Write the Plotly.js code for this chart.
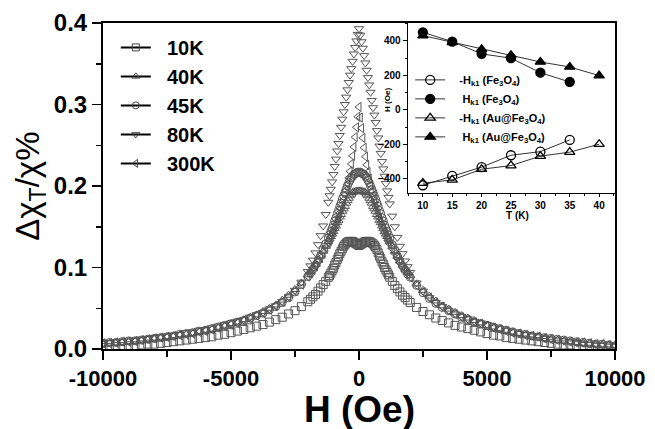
<!DOCTYPE html>
<html>
<head>
<meta charset="utf-8">
<script src="https://cdn.plot.ly/plotly-3.0.1.min.js"></script>
<style>html,body{margin:0;padding:0;background:#fff;}#chart{width:655px;height:429px;}</style>
</head>
<body>
<div id="chart"></div>
<script>
// Main chart: field H (Oe)
const H = [-10000,-9750,-9500,-9250,-9000,-8750,-8500,-8250,-8000,-7750,-7500,-7250,-7000,-6750,-6500,-6250,-6000,-5750,-5500,-5250,-5000,-4750,-4500,-4250,-4000,-3750,-3500,-3250,-3000,-2750,-2500,-2250,
 -2000,-1900,-1800,-1700,-1600,-1500,-1400,-1300,-1200,
 -1150,-1100,-1050,-1000,-950,-900,-850,-800,-750,-700,-650,
 -600,-550,-500,-450,-400,-350,-300,-250,-200,-150,-100,-50,
 0,
 50,100,150,200,250,300,350,400,450,500,550,600,
 650,700,750,800,850,900,950,1000,1050,1100,1150,
 1200,1300,1400,1500,1600,1700,1800,1900,2000,
 2250,2500,2750,3000,3250,3500,3750,4000,4250,4500,4750,5000,5250,5500,5750,6000,6250,6500,6750,7000,7250,7500,7750,8000,8250,8500,8750,9000,9250,9500,9750,10000];

const y10K = [0.002,0.002,0.003,0.003,0.004,0.004,0.005,0.006,0.006,0.007,0.008,0.009,0.010,0.011,0.012,0.013,0.014,0.015,0.017,0.018,0.020,0.022,0.024,0.026,0.028,0.030,0.033,0.036,0.039,0.043,0.047,0.052,
 0.058,0.061,0.064,0.067,0.071,0.075,0.079,0.083,0.088,
 0.090,0.093,0.096,0.099,0.103,0.106,0.110,0.113,0.117,0.120,0.123,
 0.126,0.128,0.130,0.131,0.132,0.132,0.132,0.132,0.131,0.130,0.129,0.128,
 0.127,
 0.128,0.129,0.130,0.131,0.132,0.132,0.132,0.132,0.131,0.130,0.129,0.127,
 0.125,0.122,0.118,0.114,0.111,0.107,0.104,0.100,0.097,0.094,0.091,
 0.088,0.083,0.078,0.074,0.070,0.066,0.063,0.060,0.057,
 0.051,0.046,0.042,0.038,0.035,0.032,0.029,0.027,0.025,0.023,0.021,0.019,0.017,0.016,0.014,0.013,0.012,0.011,0.010,0.009,0.008,0.007,0.006,0.005,0.005,0.004,0.003,0.003,0.002,0.002,0.001,0.001];

const y40K = [0.006,0.007,0.007,0.008,0.009,0.009,0.010,0.011,0.012,0.013,0.014,0.015,0.017,0.018,0.019,0.021,0.023,0.024,0.026,0.028,0.031,0.033,0.036,0.039,0.042,0.046,0.050,0.054,0.060,0.066,0.073,0.081,
 0.091,0.095,0.099,0.104,0.109,0.114,0.120,0.126,0.132,
 0.135,0.138,0.141,0.144,0.148,0.151,0.155,0.158,0.162,0.165,0.169,
 0.172,0.175,0.179,0.182,0.185,0.188,0.190,0.192,0.193,0.193,0.194,0.194,
 0.194,
 0.194,0.194,0.193,0.193,0.192,0.190,0.188,0.185,0.182,0.179,0.175,0.172,
 0.169,0.165,0.162,0.158,0.155,0.151,0.148,0.144,0.141,0.138,0.135,
 0.132,0.126,0.120,0.114,0.108,0.103,0.098,0.094,0.090,
 0.080,0.072,0.065,0.059,0.053,0.049,0.045,0.041,0.038,0.035,0.032,0.029,0.027,0.025,0.023,0.021,0.019,0.017,0.016,0.015,0.013,0.012,0.011,0.010,0.009,0.008,0.007,0.007,0.006,0.005,0.005,0.004];

const y45K = [0.007,0.008,0.008,0.009,0.010,0.010,0.011,0.012,0.013,0.014,0.015,0.016,0.018,0.019,0.020,0.022,0.023,0.025,0.027,0.029,0.031,0.033,0.035,0.038,0.041,0.044,0.048,0.052,0.057,0.063,0.070,0.079,
 0.089,0.093,0.098,0.103,0.109,0.115,0.122,0.129,0.136,
 0.140,0.144,0.148,0.152,0.157,0.161,0.166,0.170,0.175,0.179,0.184,
 0.188,0.192,0.196,0.200,0.204,0.207,0.210,0.212,0.214,0.215,0.216,0.217,
 0.217,
 0.217,0.216,0.215,0.214,0.212,0.210,0.207,0.204,0.200,0.196,0.192,0.188,
 0.184,0.179,0.175,0.170,0.166,0.161,0.157,0.152,0.148,0.144,0.140,
 0.136,0.128,0.121,0.114,0.108,0.102,0.097,0.092,0.088,
 0.078,0.069,0.062,0.056,0.051,0.047,0.043,0.039,0.036,0.033,0.031,0.029,0.027,0.025,0.023,0.021,0.019,0.018,0.016,0.015,0.014,0.013,0.012,0.011,0.010,0.009,0.008,0.007,0.006,0.006,0.005,0.004];

const y80K = [0.007,0.008,0.009,0.009,0.010,0.011,0.012,0.013,0.014,0.015,0.016,0.017,0.018,0.020,0.021,0.023,0.024,0.026,0.028,0.030,0.032,0.034,0.036,0.039,0.042,0.045,0.049,0.053,0.058,0.064,0.072,0.082,
 0.095,0.102,0.109,0.118,0.128,0.139,0.151,0.165,0.180,
 0.188,0.196,0.205,0.214,0.224,0.233,0.243,0.252,0.262,0.272,0.282,
 0.291,0.300,0.309,0.318,0.327,0.336,0.344,0.353,0.362,0.370,0.378,0.386,
 0.393,
 0.385,0.377,0.369,0.360,0.351,0.342,0.333,0.324,0.315,0.305,0.296,0.287,
 0.278,0.268,0.259,0.249,0.240,0.230,0.221,0.212,0.203,0.194,0.186,
 0.178,0.163,0.150,0.137,0.126,0.117,0.108,0.101,0.094,
 0.081,0.071,0.063,0.057,0.052,0.047,0.043,0.040,0.037,0.034,0.032,0.030,0.027,0.025,0.023,0.021,0.019,0.018,0.016,0.015,0.013,0.012,0.011,0.010,0.009,0.008,0.007,0.006,0.006,0.005,0.005,0.004];

const y300K = [0.007,0.007,0.008,0.009,0.009,0.010,0.011,0.012,0.013,0.014,0.015,0.016,0.017,0.018,0.019,0.021,0.022,0.024,0.026,0.028,0.030,0.032,0.035,0.037,0.041,0.044,0.048,0.053,0.058,0.064,0.071,0.079,
 0.089,0.093,0.097,0.102,0.107,0.112,0.118,0.124,0.130,
 0.133,0.137,0.141,0.145,0.149,0.153,0.157,0.162,0.167,0.172,0.177,
 0.183,0.189,0.195,0.202,0.210,0.218,0.227,0.237,0.248,0.260,0.272,0.285,
 0.297,
 0.284,0.271,0.259,0.247,0.236,0.226,0.217,0.209,0.201,0.194,0.188,0.182,
 0.176,0.171,0.166,0.161,0.156,0.152,0.148,0.144,0.140,0.136,0.132,
 0.129,0.123,0.117,0.111,0.106,0.101,0.096,0.092,0.088,
 0.078,0.070,0.063,0.057,0.052,0.047,0.043,0.039,0.036,0.033,0.031,0.028,0.026,0.024,0.022,0.020,0.019,0.017,0.016,0.015,0.013,0.012,0.011,0.010,0.009,0.008,0.008,0.007,0.006,0.006,0.005,0.004];

const seriesNames = ['10K','40K','45K','80K','300K'];
const seriesSymbols = ['square-open','triangle-up-open','circle-open','triangle-down-open','triangle-left-open'];
const seriesY = [y10K, y40K, y45K, y80K, y300K];

// Inset: T (K) vs H (Oe)
const T_Fe = [10,15,20,25,30,35];
const T_Au = [10,15,20,25,30,35,40];
const negHk1_Fe = [-437,-383,-332,-263,-242,-174];
const Hk1_Fe = [450,396,325,300,216,162];
const negHk1_Au = [-425,-406,-344,-323,-268,-245,-199];
const Hk1_Au = [431,392,352,317,278,249,199];
const insetNames = ['\u00a0\u00a0\u00a0-H<sub>k1</sub> (Fe<sub>3</sub>O<sub>4</sub>)','\u00a0\u00a0\u00a0\u00a0H<sub>k1</sub> (Fe<sub>3</sub>O<sub>4</sub>)','\u00a0\u00a0\u00a0-H<sub>k1</sub> (Au@Fe<sub>3</sub>O<sub>4</sub>)','\u00a0\u00a0\u00a0\u00a0H<sub>k1</sub> (Au@Fe<sub>3</sub>O<sub>4</sub>)'];

const FONT = 'Liberation Sans, Arial, sans-serif';
const traces = [];
for (let i = 0; i < seriesNames.length; i++) {
  if (seriesY[i].length !== H.length) console.error('length mismatch', seriesNames[i], seriesY[i].length, H.length);
  traces.push({
    x: H, y: seriesY[i], name: seriesNames[i], type: 'scatter', mode: 'markers',
    xaxis: 'x', yaxis: 'y', showlegend: false,
    marker: {symbol: seriesSymbols[i], size: 8, color: '#555', line: {width: 1, color: '#555'}}
  });
}
for (let i = 0; i < seriesNames.length; i++) {
  traces.push({
    x: [null], y: [null], name: '\u00a0\u00a0' + seriesNames[i], type: 'scatter', mode: 'lines+markers',
    xaxis: 'x', yaxis: 'y', legend: 'legend',
    line: {color: '#000', width: 2},
    marker: {symbol: seriesSymbols[i], size: 7, color: '#444', line: {width: 1, color: '#444'}}
  });
}
const insetX = [T_Fe, T_Fe, T_Au, T_Au];
const insetY = [negHk1_Fe, Hk1_Fe, negHk1_Au, Hk1_Au];
const insetSym = ['circle-open','circle','triangle-up-open','triangle-up'];
for (let i = 0; i < 4; i++) {
  traces.push({
    x: insetX[i], y: insetY[i], name: insetNames[i], type: 'scatter', mode: 'lines+markers',
    xaxis: 'x2', yaxis: 'y2', legend: 'legend2',
    line: {color: '#333', width: 1},
    marker: {symbol: insetSym[i], size: 9, color: '#000', line: {width: 1.3, color: '#000'}}
  });
}

const layout = {
  width: 655, height: 429,
  margin: {l: 103, r: 40, t: 23, b: 80},
  paper_bgcolor: '#fff', plot_bgcolor: '#fff',
  font: {family: FONT, color: '#000'},
  showlegend: true,
  xaxis: {
    domain: [0, 1], range: [-10000, 10000], tickvals: [-10000,-5000,0,5000,10000],
    ticktext: ['-10000','-5000','0','5000','10000'],
    ticks: 'outside', ticklen: 9, tickwidth: 1.5, tickcolor: '#000',
    minor: {dtick: 2500, ticks: 'outside', ticklen: 6, tickwidth: 1.5, tickcolor: '#000'},
    showline: true, linecolor: '#000', linewidth: 2, mirror: true,
    showgrid: false, zeroline: false,
    tickfont: {family: FONT, size: 22, weight: 'bold'}
  },
  yaxis: {
    domain: [0, 1], range: [0, 0.4], dtick: 0.1, tickformat: '.1f',
    ticks: 'outside', ticklen: 9, tickwidth: 1.5, tickcolor: '#000',
    minor: {dtick: 0.05, ticks: 'outside', ticklen: 5, tickwidth: 1.5, tickcolor: '#000'},
    showline: true, linecolor: '#000', linewidth: 2, mirror: true,
    showgrid: false, zeroline: false,
    tickfont: {family: FONT, size: 24, weight: 'bold'}
  },
  xaxis2: {
    domain: [0.596, 1], range: [7.5, 42.7], anchor: 'y2', dtick: 5, tick0: 10,
    ticks: 'outside', ticklen: 3, tickwidth: 1, tickcolor: '#000',
    minor: {dtick: 2.5, ticks: 'outside', ticklen: 2, tickwidth: 1, tickcolor: '#000'},
    showline: true, linecolor: '#000', linewidth: 1.5, mirror: true,
    showgrid: false, zeroline: false,
    tickfont: {family: FONT, size: 10, weight: 'bold'}
  },
  yaxis2: {
    domain: [0.479, 1], range: [-481, 504], anchor: 'x2', tickvals: [-400,-200,0,200,400],
    ticks: 'outside', ticklen: 4, tickwidth: 1, tickcolor: '#000',
    minor: {dtick: 100, ticks: 'outside', ticklen: 2, tickwidth: 1, tickcolor: '#000'},
    showline: true, linecolor: '#000', linewidth: 1.5, mirror: true,
    showgrid: false, zeroline: false,
    tickfont: {family: FONT, size: 10, weight: 'bold'}
  },
  legend: {
    x: 0.025, y: 0.985, xanchor: 'left', yanchor: 'top', bgcolor: 'rgba(0,0,0,0)',
    font: {family: FONT, size: 20, weight: 'bold'}, tracegroupgap: 0
  },
  legend2: {
    x: 0.6, y: 0.87, xanchor: 'left', yanchor: 'top', bgcolor: 'rgba(0,0,0,0)',
    font: {family: FONT, size: 11, weight: 'bold'}, tracegroupgap: 0
  },
  annotations: [
    {text: '<b>H (Oe)</b>', xref: 'paper', yref: 'paper', x: 0.5, y: -0.186, xanchor: 'center', yanchor: 'middle',
     showarrow: false, font: {family: FONT, size: 37}},
    {text: 'Δχ<sub>T</sub>/χ%', xref: 'paper', yref: 'paper', x: -0.143, y: 0.5, xanchor: 'center', yanchor: 'middle',
     textangle: -90, showarrow: false, font: {family: FONT, size: 33}},
    {text: '<b>T (K)</b>', xref: 'paper', yref: 'paper', x: 0.8105, y: 0.408, xanchor: 'center', yanchor: 'middle',
     showarrow: false, font: {family: FONT, size: 10}},
    {text: '<b>H (Oe)</b>', xref: 'paper', yref: 'paper', x: 0.5566, y: 0.764, xanchor: 'center', yanchor: 'middle',
     textangle: -90, showarrow: false, font: {family: FONT, size: 8}}
  ]
};

Plotly.newPlot('chart', traces, layout, {staticPlot: true, displayModeBar: false});
</script>
</body>
</html>
